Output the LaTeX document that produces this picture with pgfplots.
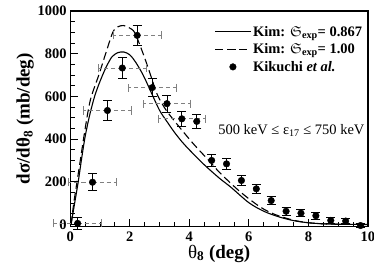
\documentclass[border=0pt]{standalone}
\usepackage{amssymb}
\usepackage{pgfplots}
\pgfplotsset{compat=1.18}
\usepackage{fontspec}
\setmainfont{Liberation Serif}
\usepackage{pgfplotstable}

\pgfplotstableread{
x y ey
0.25 5 28
0.75 198 40
1.25 534 48
1.75 733 50
2.25 886 46
2.75 641 43
3.25 566 39
3.75 495 37
4.25 483 31
4.75 300 26
5.25 284 24
5.75 206 22
6.25 167 21
6.75 112 19
7.25 62 18
7.75 53 16
8.25 41 15
8.75 19 13
9.25 16 12
9.75 -5 10
}\kikuchi

\pgfplotstableread{
x y ex
0.25 5 0.8
0.75 198 0.8
1.25 534 0.8
1.75 733 0.8
2.25 886 0.8
2.75 641 0.8
3.25 566 0.8
3.75 495 0.8
}\kikuchix

\pgfplotstableread{
x y
0.03 0
0.15 100
0.27 200
0.38 305
0.5 410
0.65 510
0.82 600
1.0 670
1.2 735
1.4 785
1.6 805
1.8 808
2.0 795
2.2 760
2.45 700
2.7 625
3.0 535
3.25 482
3.5 432
3.75 388
4.0 350
4.5 280
5.0 218
5.4 174
6.0 102
6.5 62
7.0 36
7.5 18
8.0 8
8.5 3
9.0 1
10 0
}\solid

\pgfplotstableread{
x y
0.03 0
0.12 100
0.23 200
0.35 310
0.47 420
0.6 530
0.71 600
0.96 700
1.19 800
1.43 900
1.6 926
1.8 932
2.0 920
2.17 898
2.45 800
2.7 700
2.92 610
3.2 540
3.57 473
4.13 379
4.7 293
5.04 240
5.71 153
6.38 82
6.89 46
7.5 20
8.0 8
8.5 3
9.0 1
10 0
}\dashedc

\begin{document}
\begin{tikzpicture}
\begin{axis}[
  scale only axis,
  width=297bp, height=215bp,
  xmin=0, xmax=10, ymin=-10, ymax=1000,
  clip=false,
  xtick={0,2,...,10}, ytick={0,200,...,1000},
  minor x tick num=3, minor y tick num=3,
  tick pos=left, tick align=inside,
  major tick length=8bp, minor tick length=5bp,
  every tick/.style={black, line width=0.8pt},
  axis line style={line width=1.2pt},
  /pgf/number format/assume math mode=true,
  /pgf/number format/1000 sep={},
  ticklabel style={font=\fontsize{14.5}{17}\selectfont\bfseries},
  xticklabel style={yshift=-2bp},
  xlabel={θ\textbf{\textsubscript{8} (deg)}},
  ylabel={\textbf{dσ/dθ\textsubscript{8} (mb/deg)}},
  label style={font=\fontsize{19}{22}\selectfont},
  xlabel style={yshift=4bp},
  ylabel style={yshift=-3bp},
  legend style={draw=none, fill=none, at={(rel axis cs:0.998,0.95)}, anchor=north east,
    font=\fontsize{14.5}{17}\selectfont\bfseries, row sep=2bp},
  legend cell align=left,
  legend image code/.code={\draw[mark repeat=2,mark phase=2,#1] plot coordinates {(0bp,0bp) (17.5bp,0bp) (35bp,0bp)};},
]
\addplot[black, line width=1.1pt, smooth] table[x=x,y=y] {\solid};
\addlegendentry{Kim: $\mathfrak{S}_{\mathbf{exp}}$= 0.867}
\addplot[black, line width=1.1pt, smooth, dash pattern=on 8bp off 4bp] table[x=x,y=y] {\dashedc};
\addlegendentry{Kim: $\mathfrak{S}_{\mathbf{exp}}$= 1.00}
\addplot[draw=none, forget plot, error bars/.cd, x dir=both, x explicit,
  error bar style={gray, line width=0.8pt, dash pattern=on 4bp off 3bp},
  error mark options={gray, solid, rotate=90, mark size=4bp, line width=0.8pt}]
  table[x=x,y=y,x error=ex] {\kikuchix};
\addplot[only marks, mark=*, mark size=3.3bp, black,
  error bars/.cd, y dir=both, y explicit,
  error bar style={black, line width=0.8pt},
  error mark options={black, rotate=90, mark size=4.5bp, line width=0.8pt}]
  table[x=x,y=y,y error=ey] {\kikuchi};
\addlegendentry{Kikuchi \textit{et al.}}
\node[anchor=east, font=\fontsize{14.5}{17}\selectfont] at (rel axis cs:1.0,0.447) {500 keV ≤ ε\textsubscript{17} ≤ 750 keV};
\end{axis}
\pgfresetboundingbox
\path[use as bounding box] ([shift={(-70bp,-52bp)}]current axis.south west) rectangle ([shift={(6bp,11bp)}]current axis.north east);
\end{tikzpicture}
\end{document}
